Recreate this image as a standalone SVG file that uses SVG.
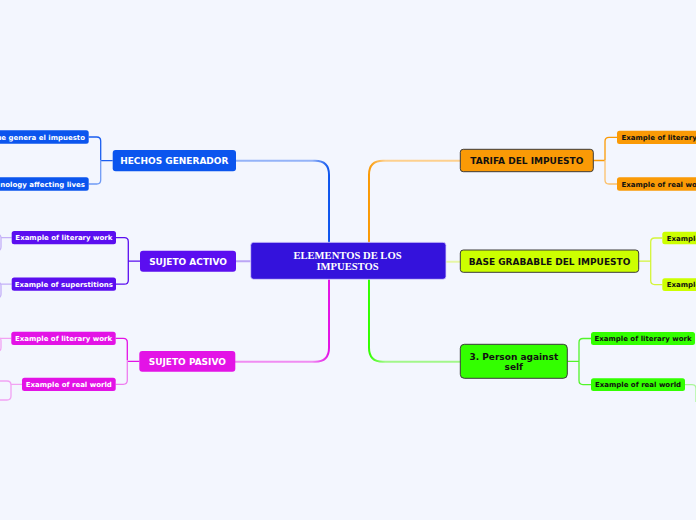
<svg xmlns="http://www.w3.org/2000/svg" width="696" height="520" viewBox="0 0 696 520">
<style>
.bg{fill:#f3f6fe}
.t{font-family:"DejaVu Sans",Verdana,sans-serif;font-weight:bold}
.main{font-size:9px;text-anchor:middle}
.sub{font-size:7px}
.w{fill:#ffffff}
.k{fill:#111111}
.conn{fill:none;stroke-width:2;stroke-linecap:round}
.br{fill:none;stroke-width:1.3}
.dark{stroke:#3a3a3a;stroke-width:1}
.ctr{font-family:"Liberation Serif","Times New Roman",serif;font-weight:bold;font-size:10.6px;fill:#ffffff;text-anchor:middle}
</style>
<defs>
<linearGradient id="gBlue" gradientUnits="userSpaceOnUse" x1="236" y1="0" x2="329" y2="0">
<stop offset="0" stop-color="#94b3f8"/><stop offset="0.82" stop-color="#94b3f8"/><stop offset="1" stop-color="#0d55ee"/>
</linearGradient>
<linearGradient id="gOrange" gradientUnits="userSpaceOnUse" x1="460" y1="0" x2="369" y2="0">
<stop offset="0" stop-color="#fdd08e"/><stop offset="0.82" stop-color="#fdd08e"/><stop offset="1" stop-color="#fa9a06"/>
</linearGradient>
<linearGradient id="gMag" gradientUnits="userSpaceOnUse" x1="235" y1="0" x2="329" y2="0">
<stop offset="0" stop-color="#f08cf2"/><stop offset="0.82" stop-color="#f08cf2"/><stop offset="1" stop-color="#e313e6"/>
</linearGradient>
<linearGradient id="gGreen" gradientUnits="userSpaceOnUse" x1="460" y1="0" x2="369" y2="0">
<stop offset="0" stop-color="#a2f78a"/><stop offset="0.82" stop-color="#a2f78a"/><stop offset="1" stop-color="#33ff00"/>
</linearGradient>
</defs>
<rect class="bg" x="0" y="0" width="696" height="520"/>

<g id="connectors">
<path class="conn" stroke="url(#gBlue)" d="M236,160.7 H315 Q329,160.7 329,174.7 V243"/>
<path class="conn" stroke="url(#gOrange)" d="M460,160.7 H383 Q369,160.7 369,174.7 V243"/>
<path class="conn" stroke="url(#gMag)" d="M235.3,361.7 H315 Q329,361.7 329,347.7 V279"/>
<path class="conn" stroke="url(#gGreen)" d="M460.3,361.7 H383 Q369,361.7 369,347.7 V279"/>
<path class="conn" stroke="#bba5f5" stroke-width="1.5" d="M236,261.2 H251"/>
<path class="conn" stroke="#e6f6a6" stroke-width="1.5" d="M446,261.7 H460"/>

<path class="br" stroke="#1a5ef0" d="M112.7,160.7 H100.7 M88.7,137 H96.7 Q100.7,137 100.7,141 V160"/>
<path class="br" stroke="#6f9af5" d="M100.7,160 V180 Q100.7,184 96.7,184 H88.7"/>
<path class="br" stroke="#5b0ef0" d="M140,261.2 H128.3 M116,237.7 H124.3 Q128.3,237.7 128.3,241.7 V280.2 Q128.3,284.2 124.3,284.2 H116"/>
<path class="br" stroke="#e313e6" d="M139.3,361.4 H127.3 M115.7,338.3 H123.3 Q127.3,338.3 127.3,342.3 V360"/>
<path class="br" stroke="#ee7cf0" d="M127.3,360 V380.3 Q127.3,384.3 123.3,384.3 H115.7"/>
<path class="br" stroke="#fa9a06" d="M593.3,160.5 H605 M617,137.3 H609 Q605,137.3 605,141.3 V160"/>
<path class="br" stroke="#fcc06a" d="M605,160 V180 Q605,184 609,184 H617"/>
<path class="br" stroke="#d4f53a" d="M638.7,261.2 H650.7 M662.3,238 H654.7 Q650.7,238 650.7,242 V280.6 Q650.7,284.6 654.7,284.6 H662.3"/>
<path class="br" stroke="#52f52a" d="M567.3,361.3 H579 M591,338.5 H583 Q579,338.5 579,342.5 V380.6 Q579,384.6 583,384.6 H591"/>

<path class="br" stroke="#c4b0f7" d="M11.7,237.7 H1 M-4,234 Q1,234 1,238 V247 Q1,251 -4,251"/>
<path class="br" stroke="#c4b0f7" d="M11.7,284.2 H1 M-4,281.7 Q1,281.7 1,285.7 V294.3 Q1,298.3 -4,298.3"/>
<path class="br" stroke="#f2a2f3" d="M11.3,338.3 H1 M-4,336.7 Q1,336.7 1,340.7 V347.7 Q1,351.7 -4,351.7"/>
<path class="br" stroke="#f2a2f3" d="M22,384.3 H11 M0,381 H7 Q11,381 11,385 V396 Q11,400 7,400 H0"/>
<path class="br" stroke="#a8f796" d="M685,384.6 H692 Q696,384.6 696,388.6 V402"/>
</g>

<g id="center">
<rect x="250.7" y="242.3" width="195.3" height="37" rx="3" fill="#3412dc" stroke="#dcd6fb" stroke-width="0.8"/>
<text class="ctr" x="347.5" y="259">ELEMENTOS DE LOS</text>
<text class="ctr" x="347.5" y="270">IMPUESTOS</text>
</g>

<g id="hechos">
<rect x="112.7" y="150" width="123.3" height="21.3" rx="3" fill="#0b55ee"/>
<text class="t main w" x="174.3" y="164">HECHOS GENERADOR</text>
</g>
<g id="hechos-c1">
<rect x="-20" y="130.3" width="108.7" height="13.4" rx="2.5" fill="#0b55ee"/>
<text class="t sub w" x="85" y="139.6" text-anchor="end">ue genera el impuesto</text>
</g>
<g id="hechos-c2">
<rect x="-20" y="177.3" width="108.7" height="13.4" rx="2.5" fill="#0b55ee"/>
<text class="t sub w" x="85" y="186.6" text-anchor="end">nology affecting lives</text>
</g>

<g id="activo">
<rect x="140" y="250.7" width="96" height="21" rx="3" fill="#5b0ef0"/>
<text class="t main w" x="188" y="264.5">SUJETO ACTIVO</text>
</g>
<g id="activo-c1">
<rect x="11.7" y="231" width="104.3" height="13.3" rx="2.5" fill="#5b0ef0"/>
<text class="t sub w" x="63.9" y="240.3" text-anchor="middle">Example of literary work</text>
</g>
<g id="activo-c2">
<rect x="11.7" y="277.6" width="104.3" height="13.2" rx="2.5" fill="#5b0ef0"/>
<text class="t sub w" x="63.9" y="286.8" text-anchor="middle">Example of superstitions</text>
</g>

<g id="pasivo">
<rect x="139.3" y="351" width="96" height="20.8" rx="3" fill="#e313e6"/>
<text class="t main w" x="187.3" y="364.6">SUJETO PASIVO</text>
</g>
<g id="pasivo-c1">
<rect x="11.3" y="331.7" width="104.4" height="13.3" rx="2.5" fill="#e313e6"/>
<text class="t sub w" x="63.5" y="341" text-anchor="middle">Example of literary work</text>
</g>
<g id="pasivo-c2">
<rect x="22" y="377.7" width="93.7" height="13.3" rx="2.5" fill="#e313e6"/>
<text class="t sub w" x="68.8" y="387" text-anchor="middle">Example of real world</text>
</g>

<g id="tarifa">
<rect class="dark" x="460.3" y="149.3" width="133" height="22.4" rx="3" fill="#fa9a06"/>
<text class="t main k" x="526.8" y="164">TARIFA DEL IMPUESTO</text>
</g>
<g id="tarifa-c1">
<rect x="617" y="130.7" width="100" height="13.3" rx="2.5" fill="#fa9a06"/>
<text class="t sub k" x="621.5" y="140">Example of literary work</text>
</g>
<g id="tarifa-c2">
<rect x="617" y="177.3" width="100" height="13.4" rx="2.5" fill="#fa9a06"/>
<text class="t sub k" x="621.5" y="186.6">Example of real world</text>
</g>

<g id="base">
<rect class="dark" x="460.3" y="250" width="178.4" height="22.3" rx="3" fill="#ccff00"/>
<text class="t main k" x="549.5" y="264.6">BASE GRABABLE DEL IMPUESTO</text>
</g>
<g id="base-c1">
<rect x="662.3" y="231.7" width="60" height="12.6" rx="2.5" fill="#ccff00"/>
<text class="t sub k" x="666.7" y="240.6">Example of literary work</text>
</g>
<g id="base-c2">
<rect x="662.3" y="278.3" width="60" height="12.7" rx="2.5" fill="#ccff00"/>
<text class="t sub k" x="666.7" y="287.3">Example of real world</text>
</g>

<g id="person">
<rect class="dark" x="460.3" y="344.3" width="107" height="34" rx="4" fill="#33ff00"/>
<text class="t main k" x="513.8" y="359.5">3. Person against</text>
<text class="t main k" x="513.8" y="370.2">self</text>
</g>
<g id="person-c1">
<rect x="591" y="332" width="104" height="13" rx="2.5" fill="#33ff00"/>
<text class="t sub k" x="643" y="341.1" text-anchor="middle">Example of literary work</text>
</g>
<g id="person-c2">
<rect x="591" y="378.3" width="94" height="12.7" rx="2.5" fill="#33ff00"/>
<text class="t sub k" x="638" y="387.3" text-anchor="middle">Example of real world</text>
</g>
</svg>
